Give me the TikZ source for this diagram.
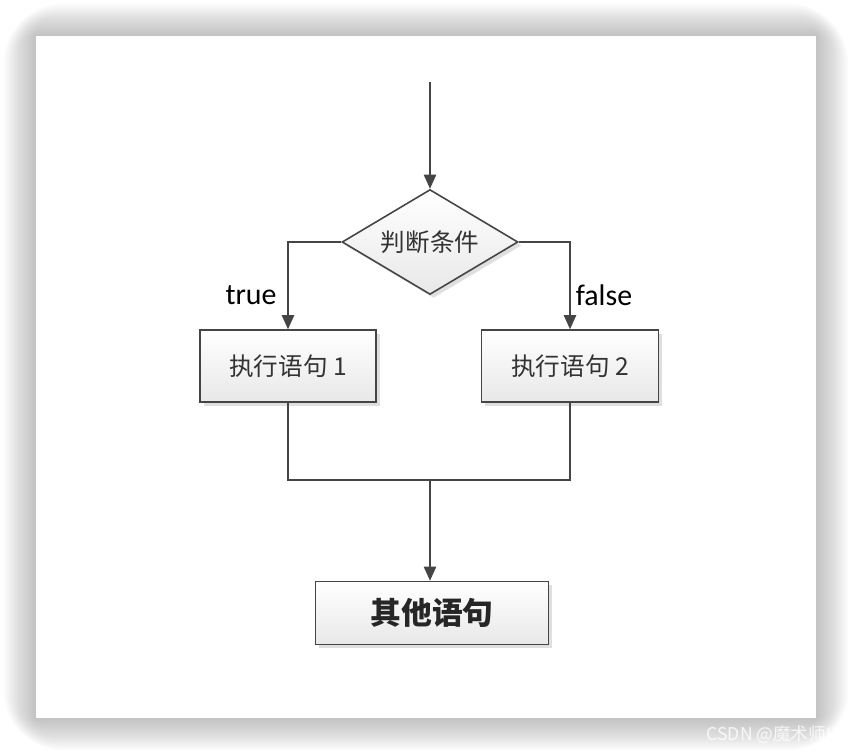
\documentclass[tikz,border=0pt]{standalone}
\usepackage{fontspec}
\setmainfont{Carlito}
\newfontfamily\cjk{Noto Sans CJK SC}
\usetikzlibrary{shapes.geometric,arrows.meta,shadows}

\definecolor{linegray}{HTML}{454545}

\begin{document}
\begin{tikzpicture}[x=0.02cm,y=-0.02cm,
  line width=0.9pt, draw=linegray,
  arr/.style={-{Triangle[length=8pt,width=7pt]}},
  stmt/.style={draw=linegray, rectangle, top color=white, bottom color=gray!18,
    drop shadow={opacity=0.25,shadow xshift=2pt,shadow yshift=-2pt},
    font=\cjk\fontsize{14}{16}\selectfont, text=black!80},
  cond/.style={draw=linegray, diamond, inner sep=0pt, top color=white, bottom color=gray!18,
    minimum width=3.52cm, minimum height=2.1cm, shape aspect=1.68,
    drop shadow={opacity=0.25,shadow xshift=2pt,shadow yshift=-2pt},
    font=\cjk\fontsize{14}{16}\selectfont, text=black!80},
  lbl/.style={font=\fontsize{17}{19}\selectfont, text=black}]
\useasboundingbox (0,0) rectangle (852,754);

% card and its soft shadow
\foreach \i in {0,...,17}
  \fill[black,opacity=0.016,rounded corners=2*\i] (36-1.9*\i,36-1.9*\i) rectangle (816+1.9*\i,718+1.9*\i);
\fill[white] (36,36) rectangle (816,718);

% nodes
\coordinate (start) at (430,82);
\node[cond] (test) at (430,242) {判断条件};
\node[stmt, minimum width=3.52cm, minimum height=1.44cm] (s1) at (288,366) {执行语句 1};
\node[stmt, minimum width=3.54cm, minimum height=1.44cm] (s2) at (570,366) {执行语句 2};
\node[stmt, minimum width=4.66cm, minimum height=1.26cm,
  font=\cjk\bfseries\fontsize{17.5}{19}\selectfont, text=black!85] (rest) at (432,613) {其他语句};
\coordinate (join) at (430,480);

% connectors
\draw[arr] (start) -- (test.north);
\draw[arr] (test.west) -| (s1.north);
\draw[arr] (test.east) -| (s2.north);
\draw (s1.south) |- (join) -| (s2.south);
\draw[arr] (join) -- (join |- rest.north);

\node[lbl] (ltrue) at (251,295) {true};
\node[lbl] (lfalse) at (604,295) {false};

\node[font=\cjk\fontsize{10}{12}\selectfont, text=white, opacity=0.8] (mark) at (775,735) {CSDN @魔术师ID};
\end{tikzpicture}
\end{document}
